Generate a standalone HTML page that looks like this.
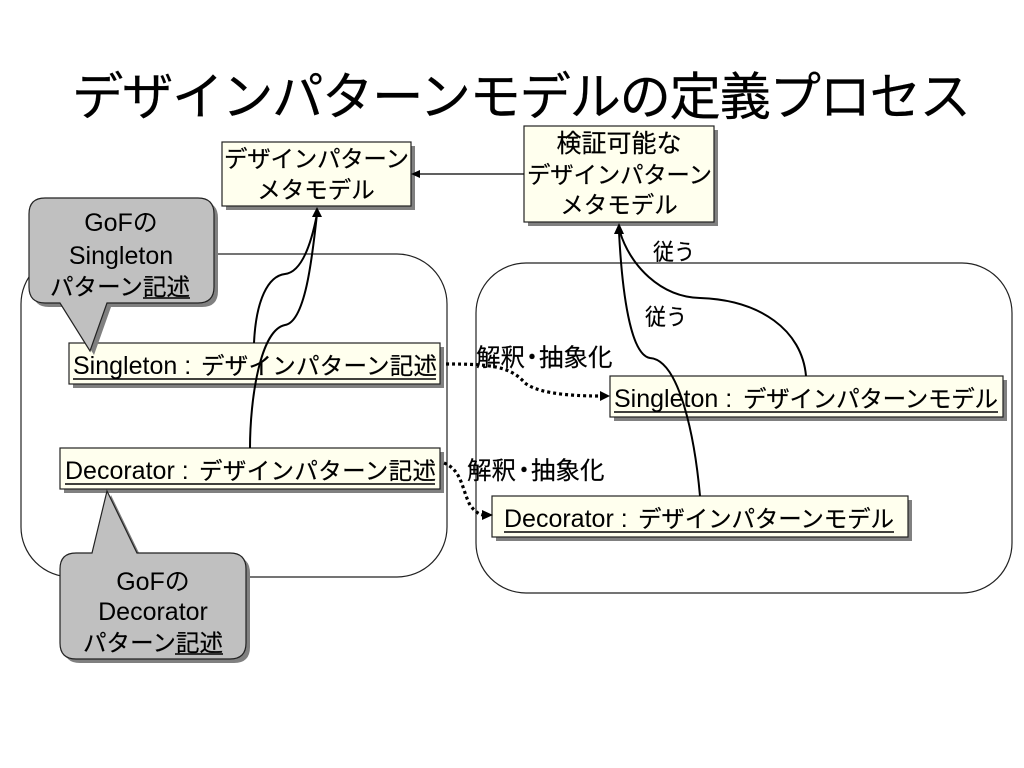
<!DOCTYPE html>
<html lang="ja">
<head>
<meta charset="utf-8">
<title>デザインパターンモデルの定義プロセス</title>
<style>
html,body{margin:0;padding:0;background:#fff;}
svg{display:block;}
text{font-family:"Liberation Sans","Noto Sans CJK JP",sans-serif;font-size:23.5px;fill:#000;stroke:#000;stroke-width:.2;}
.l{font-size:25px;stroke-width:0;}
.k{font-size:25px;}
.c{text-anchor:middle;}
.box{fill:#ffffee;stroke:#222;stroke-width:1.2;}
.sh{fill:#808080;}
.cur{fill:none;stroke:#000;stroke-width:2;}
.dot{fill:none;stroke:#000;stroke-width:3.2;stroke-dasharray:3 3;}
.ul{stroke:#000;stroke-width:1.5;}
</style>
</head>
<body>
<svg width="1024" height="768" viewBox="0 0 1024 768" xmlns="http://www.w3.org/2000/svg">
<rect width="1024" height="768" fill="#fff"/>
<text x="72" y="115" style="font-size:51.5px" textLength="899" lengthAdjust="spacing">デザインパターンモデルの定義プロセス</text>

<!-- containers -->
<rect x="21" y="254" width="426" height="323" rx="50" ry="50" fill="#fff" stroke="#222" stroke-width="1.2"/>
<rect x="476" y="263" width="536" height="330" rx="50" ry="50" fill="#fff" stroke="#222" stroke-width="1.2"/>

<!-- meta boxes -->
<rect class="sh" x="226" y="146" width="189" height="64"/>
<rect class="box" x="222" y="142" width="189" height="64"/>
<text x="224" y="167" textLength="185" lengthAdjust="spacing">デザインパターン</text>
<text class="c" x="316" y="198">メタモデル</text>

<rect class="sh" x="528" y="130" width="190" height="96"/>
<rect class="box" x="524" y="126" width="190" height="96"/>
<text class="c k" x="619" y="152">検証可能な</text>
<text x="527" y="183" textLength="185" lengthAdjust="spacing">デザインパターン</text>
<text class="c" x="619" y="213">メタモデル</text>

<!-- instance boxes -->
<rect class="sh" x="73" y="347" width="371" height="41"/>
<rect class="box" x="69" y="343" width="371" height="41"/>
<text class="l" x="73" y="374">Singleton :</text>
<text x="201" y="374" textLength="236" lengthAdjust="spacing">デザインパターン記述</text>
<line class="ul" x1="73" y1="379" x2="436" y2="379"/>

<rect class="sh" x="64" y="452" width="380" height="41"/>
<rect class="box" x="60" y="448" width="380" height="41"/>
<text class="l" x="65" y="479">Decorator :</text>
<text x="199" y="479" textLength="237" lengthAdjust="spacing">デザインパターン記述</text>
<line class="ul" x1="65" y1="484" x2="435" y2="484"/>

<rect class="sh" x="614" y="380" width="393" height="41"/>
<rect class="box" x="610" y="376" width="393" height="41"/>
<text class="l" x="614" y="407">Singleton :</text>
<text x="743" y="407" textLength="255" lengthAdjust="spacing">デザインパターンモデル</text>
<line class="ul" x1="614" y1="412" x2="998" y2="412"/>

<rect class="sh" x="496" y="500" width="416" height="41"/>
<rect class="box" x="492" y="496" width="416" height="41"/>
<text class="l" x="504" y="527">Decorator :</text>
<text x="638" y="527" textLength="256" lengthAdjust="spacing">デザインパターンモデル</text>
<line class="ul" x1="504" y1="532" x2="894" y2="532"/>

<!-- callouts -->
<path class="sh" transform="translate(4,4)" d="M45,198 H198 Q214,198 214,214 V287 Q214,303 198,303 H107 L90,351 L60,303 H45 Q29,303 29,287 V214 Q29,198 45,198 Z"/>
<path d="M45,198 H198 Q214,198 214,214 V287 Q214,303 198,303 H107 L90,351 L60,303 H45 Q29,303 29,287 V214 Q29,198 45,198 Z" fill="#c0c0c0" stroke="#222" stroke-width="1.2"/>
<text class="c l" x="121" y="231">GoFの</text>
<text class="c l" x="121" y="264">Singleton</text>
<text x="50" y="295" textLength="140" lengthAdjust="spacing">パターン記述</text>
<line class="ul" x1="143" y1="298" x2="190" y2="298"/>

<path class="sh" transform="translate(4,4)" d="M76,553 H92 L107,491 L137,553 H230 Q246,553 246,569 V643 Q246,659 230,659 H76 Q60,659 60,643 V569 Q60,553 76,553 Z"/>
<path d="M76,553 H92 L107,491 L137,553 H230 Q246,553 246,569 V643 Q246,659 230,659 H76 Q60,659 60,643 V569 Q60,553 76,553 Z" fill="#c0c0c0" stroke="#222" stroke-width="1.2"/>
<text class="c l" x="153" y="590">GoFの</text>
<text class="c l" x="153" y="620">Decorator</text>
<text x="83" y="651" textLength="140" lengthAdjust="spacing">パターン記述</text>
<line class="ul" x1="175" y1="654" x2="223" y2="654"/>

<!-- connectors -->
<line x1="524" y1="174" x2="418" y2="174" stroke="#000" stroke-width="1.3"/>
<polygon points="411,174 420,170 420,178" fill="#000"/>

<path class="cur" d="M254,343 C256,300 268,276 285,274 C303,272 312,240 317,214"/>
<path class="cur" d="M250,448 C250,400 260,330 285,325 C305,322 312,260 317,214"/>
<polygon points="317,207 312,217 322,217" fill="#000"/>

<path class="cur" d="M806,376 C802,330 760,300 700,298 C660,297 630,265 620,232"/>
<path class="cur" d="M700,496 C695,440 680,360 650,358 C630,355 622,290 619,232"/>
<polygon points="619,223 614,234 624,234" fill="#000"/>

<path class="dot" d="M446,364 C490,364 510,366 525,383 C540,395 580,396 600,396"/>
<polygon points="610,396 600,391 600,401" fill="#000"/>
<path class="dot" d="M444,463 C462,470 462,490 470,505 C475,512 480,515 484,515"/>
<polygon points="493,515 482,510 482,520" fill="#000"/>

<!-- labels -->
<text class="k" x="476" y="366" style="font-size:24.5px">解釈</text>
<text class="c" x="532" y="364" style="font-size:20px;font-weight:bold">・</text>
<text class="k" x="539" y="366" style="font-size:24.5px">抽象化</text>
<text class="k" x="467" y="479" style="font-size:24.5px">解釈</text>
<text class="c" x="524" y="477" style="font-size:20px;font-weight:bold">・</text>
<text class="k" x="531" y="479" style="font-size:24.5px">抽象化</text>
<text x="653" y="260" style="font-size:22.5px" textLength="42" lengthAdjust="spacingAndGlyphs">従う</text>
<text x="645" y="325" style="font-size:22.5px" textLength="42" lengthAdjust="spacingAndGlyphs">従う</text>
</svg>
</body>
</html>
